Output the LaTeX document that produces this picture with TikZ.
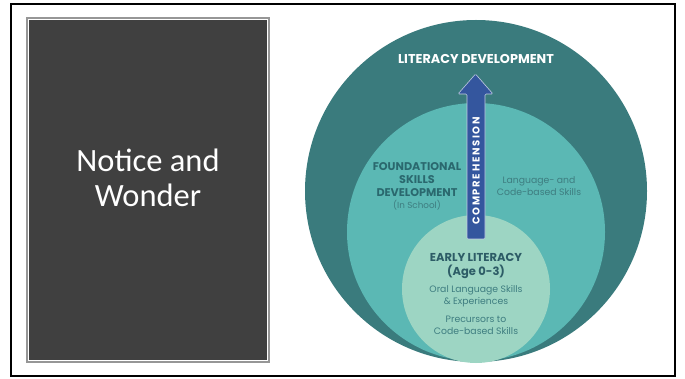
\documentclass[tikz,border=0pt]{standalone}
\usepackage{fontspec}
\setmainfont{Poppins}
\newfontfamily\slidefont{Carlito}
\usepackage{tikz}
\usetikzlibrary{positioning}
\usepackage{xcolor}
\definecolor{panel}{RGB}{64,64,64}
\definecolor{panelrim}{RGB}{150,150,150}
\definecolor{outerring}{RGB}{58,123,125}
\definecolor{midring}{RGB}{91,184,180}
\definecolor{innerring}{RGB}{157,213,195}
\definecolor{arrowblue}{RGB}{52,86,158}
\definecolor{headteal}{RGB}{42,104,110}
\definecolor{bodyteal}{RGB}{62,125,128}
\definecolor{earlyteal}{RGB}{45,92,102}

\begin{document}
\begin{tikzpicture}[x=1pt, y=-1pt,
    ringtitle/.style = {font=\bfseries\fontsize{11.2}{12.7}\selectfont, align=center},
    ringtext/.style = {font=\fontsize{9.3}{12.3}\selectfont, align=center}]
    \useasboundingbox (0,0) rectangle (685,379);
    % slide frame
    \draw[line width=2pt] (11,4) rectangle (675,376);
    % left panel
    \draw[draw=panelrim, line width=1.6pt, fill=panel] (27,18) rectangle (269,362);
    \draw[white, line width=0.6pt] (28.5,19.5) rectangle (267.5,360.5);
    \node[text=white, align=center, font=\slidefont\fontsize{32.5}{35}\selectfont]
        (nw) at (148,178) {Notice and\\Wonder};
    %
    % nested circles, all touching at the bottom
    \fill[outerring] (476,191) circle (171);
    \fill[midring] (476,232) circle (129);
    \fill[innerring] (476,289) circle (74);
    %
    % comprehension arrow
    \filldraw[fill=arrowblue, draw=white!70!arrowblue, line width=0.6pt, rounded corners=1.2pt]
        (467,239) -- (467,94) -- (458,94) -- (475.5,74) -- (493,94) -- (485,94)
        -- (485,239) -- cycle;
    \node[rotate=90, text=white, font=\bfseries\fontsize{10}{10}\selectfont]
        (comp) at (476,171) {C\,O\,M\,P\,R\,E\,H\,E\,N\,S\,I\,O\,N};
    %
    \node[ringtitle, text=white, font=\bfseries\fontsize{12.8}{14}\selectfont]
        (lit) at (476,59) {LITERACY DEVELOPMENT};
    \node[ringtitle, text=headteal] (found) at (417,179.5)
        {FOUNDATIONAL\\SKILLS\\DEVELOPMENT};
    \node[ringtext, text=bodyteal, font=\fontsize{8.8}{11}\selectfont] (school) at (417,205)
        {(In School)};
    \node[ringtext, text=bodyteal] (lang) at (539,186)
        {Language- and\\Code-based Skills};
    \node[ringtitle, text=earlyteal, font=\bfseries\fontsize{11.5}{14}\selectfont] (early) at (476,266)
        {EARLY LITERACY\\(Age 0-3)};
    \node[ringtext, text=bodyteal] (oral) at (476,296)
        {Oral Language Skills\\\& Experiences};
    \node[ringtext, text=bodyteal] (prec) at (476,325.5)
        {Precursors to\\Code-based Skills};
\end{tikzpicture}
\end{document}
